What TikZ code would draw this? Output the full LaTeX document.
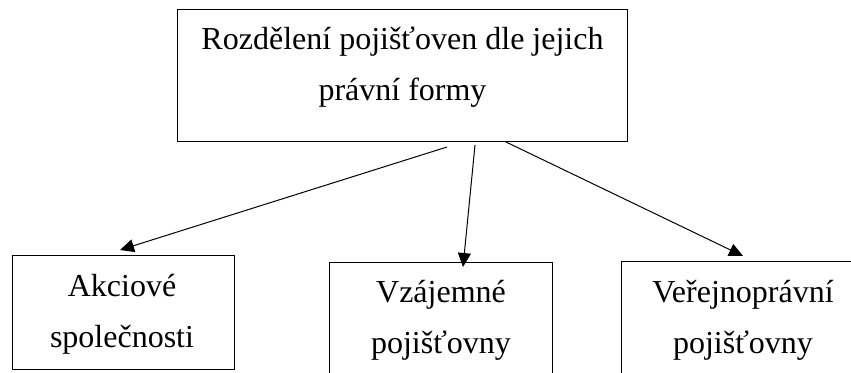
\documentclass[tikz,border=0pt]{standalone}
\usepackage{fontspec}
\setmainfont{Liberation Serif}
\usetikzlibrary{arrows.meta}
\begin{document}
\begin{tikzpicture}[x=1pt,y=-1pt,
  boxshape/.style={draw=black, line width=1pt, fill=white, inner sep=0pt},
  lbl/.style={anchor=base, inner sep=0pt, font=\fontsize{32}{51}\selectfont},
  conn/.style={draw=black, line width=1pt, -{Triangle[length=14pt,width=13pt]}}]
\useasboundingbox (0,0) rectangle (851,372);
\begin{scope}
\clip (0,0) rectangle (851,372);
% boxes
\node[boxshape, minimum width=449.5pt, minimum height=131.5pt] (top) at (402.25,75.25) {};
\node[boxshape, minimum width=222pt, minimum height=114pt] (left) at (123,312) {};
\node[boxshape, minimum width=223pt, minimum height=150pt] (mid) at (440.5,337) {};
\node[boxshape, minimum width=244pt, minimum height=150pt] (right) at (743,336) {};
% texts
\node[lbl] (t1) at (402.5,49) {Rozdělení pojišťoven dle jejich};
\node[lbl] (t2) at (402.5,100) {právní formy};
\node[lbl] (l1) at (122,296) {Akciové};
\node[lbl] (l2) at (122,347) {společnosti};
\node[lbl] (m1) at (441,302) {Vzájemné};
\node[lbl] (m2) at (441,353) {pojišťovny};
\node[lbl] (r1) at (743,302) {Veřejnoprávní};
\node[lbl] (r2) at (743,353) {pojišťovny};
% connector ends
\coordinate (s1) at (447,147);
\coordinate (e1) at (120,250);
\coordinate (s2) at (475,145);
\coordinate (e2) at (463,267);
\coordinate (s3) at (506,142);
\coordinate (e3) at (743,256);
\draw[conn] (s1) -- (e1);
\draw[conn] (s2) -- (e2);
\draw[conn] (s3) -- (e3);
\end{scope}
\end{tikzpicture}
\end{document}
